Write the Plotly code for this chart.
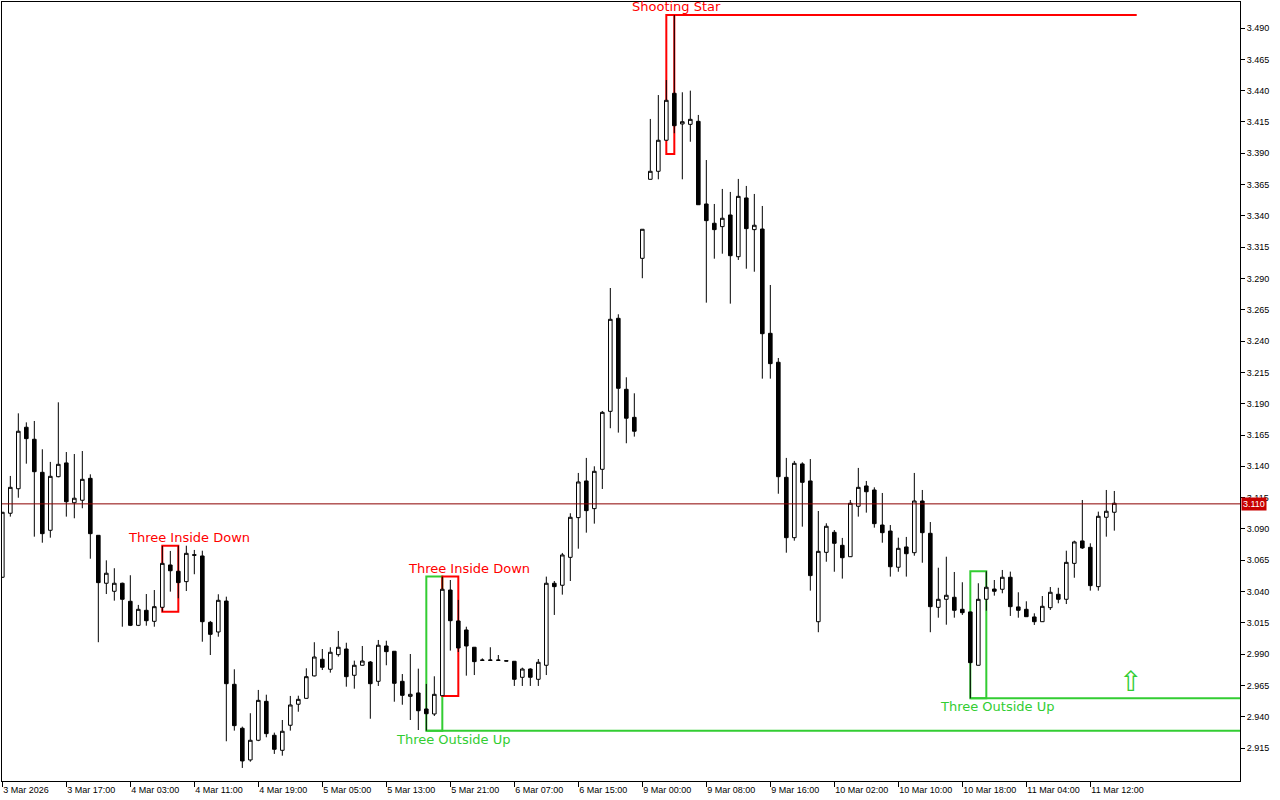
import plotly.graph_objects as go

# ---------------- data (hourly candles, 3 Mar 2026 09:00 -> 11 Mar 2026) ----------------
opens = [3.0514, 3.1025, 3.1221, 3.1712, 3.1616, 3.1352, 3.0889, 3.1317, 3.1427, 3.1109,
         3.1129, 3.1304, 3.0849, 3.0466, 3.0402, 3.0466, 3.0322, 3.0130, 3.0250, 3.0162,
         3.0274, 3.0612, 3.0562, 3.0479, 3.0694, 3.0684, 3.0154, 3.0077, 3.0324, 2.9659,
         2.9308, 2.9055, 2.9212, 2.9523, 2.9252, 2.9132, 2.9332, 2.9500, 2.9547, 2.9726,
         2.9859, 2.9779, 2.9896, 2.9941, 2.9731, 2.9811, 2.9837, 2.9683, 2.9965, 2.9923,
         2.9683, 2.9563, 2.9590, 2.9462, 2.9422, 2.9568, 3.0412, 3.0165, 3.0093, 2.9955,
         2.9853, 2.9853, 2.9853, 2.9847, 2.9843, 2.9715, 2.9781, 2.9699, 2.9811, 3.0466,
         3.0450, 3.0673, 3.0990, 3.1283, 3.1062, 3.1376, 3.1839, 3.2582, 3.2015, 3.1791,
         3.3061, 3.3692, 3.3756, 3.4004, 3.4379, 3.4134, 3.4131, 3.4155, 3.3495, 3.3341,
         3.3314, 3.3407, 3.3074, 3.3543, 3.3290, 3.3295, 3.2462, 3.2231, 3.1312, 3.0830,
         3.1419, 3.1283, 3.0159, 3.0713, 3.0873, 3.0769, 3.0678, 3.1081, 3.1243, 3.1211,
         3.0931, 3.0883, 3.0594, 3.0756, 3.0710, 3.1123, 3.0865, 3.0274, 3.0338, 3.0354,
         3.0258, 3.0237, 2.9811, 3.0338, 3.0420, 3.0418, 3.0514, 3.0277, 3.0258, 3.0197,
         3.0159, 3.0271, 3.0378, 3.0338, 3.0625, 3.0804, 3.0753, 3.0439, 3.0993, 3.1033]
highs = [3.1035, 3.1323, 3.1823, 3.1751, 3.1762, 3.1536, 3.1435, 3.1911, 3.1514, 3.1498,
         3.1522, 3.1336, 3.0850, 3.0649, 3.0586, 3.0471, 3.0530, 3.0293, 3.0380, 3.0412,
         3.0764, 3.0724, 3.0766, 3.0766, 3.0732, 3.0726, 3.0165, 3.0378, 3.0359, 2.9779,
         2.9321, 2.9428, 2.9614, 2.9576, 2.9273, 2.9374, 2.9566, 2.9568, 2.9787, 2.9995,
         2.9941, 2.9955, 3.0085, 2.9991, 2.9848, 2.9965, 2.9845, 3.0013, 3.0007, 2.9925,
         2.9741, 2.9901, 2.9784, 2.9662, 2.9723, 3.0519, 3.0492, 3.0333, 3.0119, 2.9957,
         2.9866, 2.9955, 2.9893, 2.9849, 2.9845, 2.9792, 2.9787, 2.9861, 3.0519, 3.0484,
         3.0708, 3.1025, 3.1347, 3.1467, 3.1400, 3.1842, 3.2824, 3.2614, 3.2111, 3.1983,
         3.3295, 3.4174, 3.4365, 3.4485, 3.5004, 3.4387, 3.4400, 3.4206, 3.3846, 3.3495,
         3.3615, 3.3591, 3.3695, 3.3639, 3.3575, 3.3479, 3.2848, 3.2265, 3.1467, 3.1443,
         3.1432, 3.1458, 3.1043, 3.0945, 3.0891, 3.0828, 3.1131, 3.1387, 3.1283, 3.1232,
         3.1187, 3.0931, 3.0830, 3.0836, 3.1347, 3.1211, 3.0955, 3.0590, 3.0678, 3.0556,
         3.0474, 3.0240, 3.0466, 3.0562, 3.0492, 3.0572, 3.0559, 3.0394, 3.0322, 3.0226,
         3.0364, 3.0436, 3.0430, 3.0726, 3.0806, 3.1131, 3.0785, 3.1038, 3.1211, 3.1203]
lows = [3.0510, 3.0998, 3.1149, 3.1421, 3.0838, 3.0790, 3.0830, 3.1312, 3.0998, 3.0985,
        3.1065, 3.0662, 2.9995, 3.0380, 3.0327, 3.0119, 3.0124, 3.0124, 3.0127, 3.0119,
        3.0239, 3.0399, 3.0346, 3.0404, 3.0538, 2.9999, 2.9893, 3.0039, 2.9204, 2.9289,
        2.8991, 2.9041, 2.9205, 2.9236, 2.9103, 2.9089, 2.9289, 2.9440, 2.9545, 2.9722,
        2.9773, 2.9752, 2.9880, 2.9640, 2.9624, 2.9809, 2.9384, 2.9646, 2.9811, 2.9520,
        2.9496, 2.9374, 2.9294, 2.9289, 2.9406, 2.9566, 2.9928, 2.9917, 2.9728, 2.9733,
        2.9848, 2.9848, 2.9848, 2.9843, 2.9646, 2.9646, 2.9646, 2.9646, 2.9733, 3.0213,
        3.0375, 3.0484, 3.0742, 3.0870, 3.0942, 3.1219, 3.1704, 3.1669, 3.1584, 3.1637,
        3.2902, 3.3690, 3.3692, 3.4002, 3.4060, 3.3692, 3.3992, 3.3487, 3.2707, 3.3058,
        3.3098, 3.2699, 3.3048, 3.2978, 3.2954, 3.2100, 3.2100, 3.1181, 3.0710, 3.0806,
        3.0918, 3.0407, 3.0075, 3.0638, 3.0558, 3.0503, 3.0676, 3.0998, 3.1030, 3.0910,
        3.0790, 3.0519, 3.0558, 3.0519, 3.0686, 3.0630, 3.0075, 3.0191, 3.0135, 3.0191,
        3.0213, 2.9547, 2.9809, 3.0247, 3.0367, 3.0386, 3.0205, 3.0191, 3.0197, 3.0133,
        3.0157, 3.0253, 3.0306, 3.0300, 3.0510, 3.0740, 3.0407, 3.0407, 3.0838, 3.0886]
closes = [3.1033, 3.1232, 3.1680, 3.1621, 3.1357, 3.0862, 3.1320, 3.1416, 3.1117, 3.1145,
          3.1296, 3.0862, 3.0471, 3.0546, 3.0466, 3.0338, 3.0130, 3.0258, 3.0167, 3.0279,
          3.0625, 3.0566, 3.0471, 3.0705, 3.0690, 3.0159, 3.0058, 3.0330, 2.9664, 2.9329,
          2.9047, 2.9212, 2.9531, 2.9265, 2.9140, 2.9284, 2.9494, 2.9539, 2.9720, 2.9877,
          2.9795, 2.9915, 2.9955, 2.9720, 2.9811, 2.9845, 2.9664, 2.9971, 2.9920, 2.9667,
          2.9571, 2.9579, 2.9448, 2.9424, 2.9579, 3.0418, 3.0167, 2.9949, 2.9965, 2.9840,
          2.9851, 2.9851, 2.9851, 2.9845, 2.9699, 2.9781, 2.9715, 2.9835, 3.0466, 3.0439,
          3.0692, 3.0993, 3.1275, 3.1046, 3.1360, 3.1831, 3.2574, 3.2023, 3.1784, 3.1680,
          3.3293, 3.3756, 3.4004, 3.4323, 3.4120, 3.4152, 3.4171, 3.3489, 3.3362, 3.3290,
          3.3381, 3.3082, 3.3556, 3.3298, 3.3325, 3.2459, 3.2220, 3.1317, 3.0830, 3.1424,
          3.1272, 3.0527, 3.0721, 3.0921, 3.0785, 3.0670, 3.1105, 3.1232, 3.1197, 3.0942,
          3.0870, 3.0598, 3.0745, 3.0702, 3.1123, 3.0870, 3.0279, 3.0338, 3.0370, 3.0250,
          3.0231, 2.9832, 3.0338, 3.0434, 3.0402, 3.0514, 3.0279, 3.0250, 3.0199, 3.0159,
          3.0282, 3.0394, 3.0338, 3.0633, 3.0796, 3.0748, 3.0447, 3.1001, 3.1041, 3.1105]

time_labels = ["3 Mar 2026", "3 Mar 17:00", "4 Mar 03:00", "4 Mar 11:00", "4 Mar 19:00",
               "5 Mar 05:00", "5 Mar 13:00", "5 Mar 21:00", "6 Mar 07:00", "6 Mar 15:00",
               "9 Mar 00:00", "9 Mar 08:00", "9 Mar 16:00", "10 Mar 02:00", "10 Mar 10:00",
               "10 Mar 18:00", "11 Mar 04:00", "11 Mar 12:00"]
bars_per_label = 8

price_ticks = [3.490, 3.465, 3.440, 3.415, 3.390, 3.365, 3.340, 3.315, 3.290, 3.265,
               3.240, 3.215, 3.190, 3.165, 3.140, 3.115, 3.090, 3.065, 3.040, 3.015,
               2.990, 2.965, 2.940, 2.915]

bid_price = 3.110

# candlestick patterns: (name, first bar, last bar, direction)
patterns = [
    ("Three Inside Down", 20, 22, "bear"),
    ("Three Outside Up", 53, 55, "bull"),
    ("Three Inside Down", 55, 57, "bear"),
    ("Shooting Star", 83, 84, "star"),
    ("Three Outside Up", 121, 123, "bull"),
]
shooting_star_box_low = 3.3894
signal_arrow_bar = 141
signal_arrow_price = 2.968
star_line_end_bar = 141.8

# ---------------- figure ----------------
n = len(opens)
xs = list(range(n))
x_min, x_max = -0.04, 154.71
RED = "#ff0000"
GREEN = "#32cd32"

fig = go.Figure()
fig.add_trace(go.Candlestick(
    x=xs, open=opens, high=highs, low=lows, close=closes,
    increasing=dict(line=dict(color="black", width=1), fillcolor="white"),
    decreasing=dict(line=dict(color="black", width=1), fillcolor="black"),
    whiskerwidth=0, hoverinfo="skip", showlegend=False,
))

shapes = []
annotations = []
for name, s, e, kind in patterns:
    top = max(highs[s:e + 1])
    bot = min(lows[s:e + 1])
    if kind == "star":
        bot = shooting_star_box_low
    col = GREEN if kind == "bull" else RED
    shapes.append(dict(type="rect", xref="x", yref="y", x0=s, x1=e, y0=bot, y1=top,
                       line=dict(color=col, width=2), fillcolor="rgba(0,0,0,0)", layer="below"))
    if kind == "bull":
        shapes.append(dict(type="line", xref="x", yref="y", x0=s, x1=x_max, y0=bot, y1=bot,
                           line=dict(color=col, width=2), layer="below"))
        annotations.append(dict(x=s, y=bot, xref="x", yref="y", text=name, showarrow=False,
                                xanchor="left", yanchor="top", xshift=-32, yshift=1,
                                font=dict(family="DejaVu Sans", size=13, color=col)))
    else:
        if kind == "star":
            shapes.append(dict(type="line", xref="x", yref="y", x0=e, x1=star_line_end_bar,
                               y0=top, y1=top, line=dict(color=col, width=2), layer="below"))
        annotations.append(dict(x=s, y=top, xref="x", yref="y", text=name, showarrow=False,
                                xanchor="left", yanchor="bottom", xshift=-36, yshift=-1,
                                font=dict(family="DejaVu Sans", size=13, color=col)))

# bid line and price tag
shapes.append(dict(type="line", xref="paper", yref="y", x0=0, x1=1, y0=bid_price, y1=bid_price,
                   line=dict(color="#8c0000", width=1), layer="above"))
annotations.append(dict(x=1, y=bid_price, xref="paper", yref="y", text=f"{bid_price:.3f}",
                        showarrow=False, xanchor="left", yanchor="middle", xshift=1,
                        bgcolor="#c80000", borderpad=1,
                        font=dict(family="Liberation Sans", size=9, color="white")))
# buy signal arrow
annotations.append(dict(x=signal_arrow_bar, y=signal_arrow_price, xref="x", yref="y", text="⇧",
                        showarrow=False, xanchor="center", yanchor="middle",
                        font=dict(family="DejaVu Sans", size=28, color=GREEN)))

fig.update_layout(
    width=1280, height=800,
    margin=dict(l=2, r=40, t=2, b=19),
    paper_bgcolor="white", plot_bgcolor="white",
    boxgap=0.36,
    shapes=shapes, annotations=annotations,
    showlegend=False,
    font=dict(family="Liberation Sans", size=9, color="black"),
    xaxis=dict(
        range=[x_min, x_max],
        tickvals=[k * bars_per_label for k in range(len(time_labels))],
        ticktext=time_labels,
        ticks="outside", ticklen=5, tickcolor="black", tickwidth=1,
        ticklabelposition="outside right",
        showline=True, mirror=True, linecolor="black", linewidth=1,
        showgrid=False, zeroline=False,
        rangeslider=dict(visible=False),
        tickfont=dict(family="Liberation Sans", size=9, color="black"),
        fixedrange=True,
    ),
    yaxis=dict(
        side="right",
        range=[2.88868, 3.51080],
        tickvals=price_ticks,
        ticktext=[f"{v:.3f}" for v in price_ticks],
        ticks="outside", ticklen=4, tickcolor="black", tickwidth=1,
        showline=True, mirror=True, linecolor="black", linewidth=1,
        showgrid=False, zeroline=False,
        tickfont=dict(family="Liberation Sans", size=9, color="black"),
        fixedrange=True,
    ),
)

fig.write_html("out.html", config={"displayModeBar": False},
               post_script="document.body.style.margin='0';document.body.style.overflow='hidden';")
